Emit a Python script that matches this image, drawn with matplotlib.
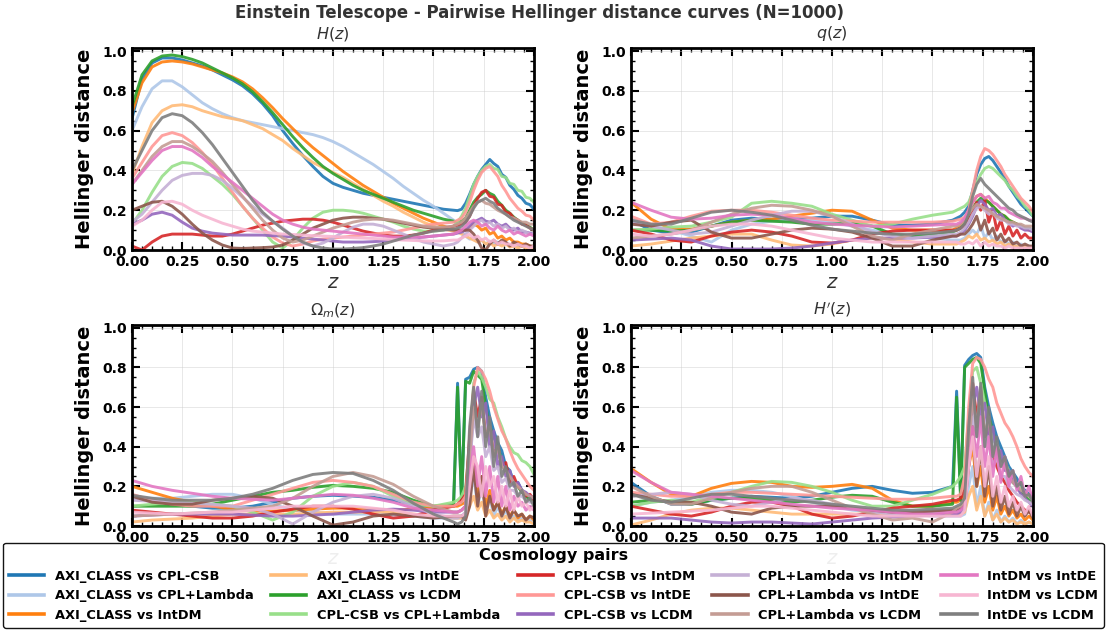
import matplotlib
matplotlib.use("Agg")
import matplotlib.pyplot as plt
from matplotlib.ticker import MultipleLocator

# ---------------- data ----------------
PAIRS = [
    "AXI_CLASS vs CPL-CSB", "AXI_CLASS vs CPL+Lambda", "AXI_CLASS vs IntDM",
    "AXI_CLASS vs IntDE", "AXI_CLASS vs LCDM", "CPL-CSB vs CPL+Lambda",
    "CPL-CSB vs IntDM", "CPL-CSB vs IntDE", "CPL-CSB vs LCDM",
    "CPL+Lambda vs IntDM", "CPL+Lambda vs IntDE", "CPL+Lambda vs LCDM",
    "IntDM vs IntDE", "IntDM vs LCDM", "IntDE vs LCDM",
]
PANEL_TITLES = ["$H(z)$", "$q(z)$", r"$\Omega_m(z)$", "$H'(z)$"]

Z_FINE = [0.00, 0.05, 0.10, 0.15, 0.20, 0.25, 0.30, 0.35, 0.40, 0.45, 0.50,
          0.55, 0.60, 0.65, 0.70, 0.75, 0.80, 0.85, 0.90, 0.95, 1.00, 1.05,
          1.10, 1.15, 1.20, 1.25, 1.30, 1.35, 1.40, 1.45, 1.50, 1.55, 1.60]
Z_COARSE = [0.0, 0.1, 0.2, 0.3, 0.4, 0.5, 0.6, 0.7, 0.8, 0.9, 1.0, 1.1, 1.2,
            1.3, 1.4, 1.5, 1.6]
Z_NOISY = [1.62, 1.64, 1.66, 1.68, 1.70, 1.72, 1.74, 1.76, 1.78, 1.80, 1.82,
           1.84, 1.86, 1.88, 1.90, 1.92, 1.94, 1.96, 1.98, 2.00]

# H(z) panel: smooth part on Z_FINE, noisy part on Z_NOISY
H_SMOOTH = [
    [0.66,0.86,0.94,0.965,0.965,0.955,0.94,0.925,0.905,0.88,0.855,0.825,0.785,0.735,0.675,0.60,0.535,0.475,0.42,0.37,0.335,0.315,0.30,0.285,0.275,0.265,0.255,0.245,0.235,0.225,0.215,0.205,0.20],
    [0.60,0.72,0.81,0.85,0.85,0.82,0.78,0.74,0.71,0.685,0.665,0.65,0.64,0.63,0.62,0.61,0.60,0.59,0.58,0.565,0.545,0.52,0.49,0.46,0.43,0.395,0.36,0.32,0.285,0.25,0.22,0.185,0.15],
    [0.69,0.84,0.92,0.945,0.95,0.945,0.935,0.92,0.905,0.89,0.87,0.845,0.81,0.765,0.715,0.66,0.61,0.56,0.515,0.475,0.435,0.395,0.36,0.325,0.295,0.265,0.235,0.21,0.185,0.16,0.14,0.12,0.105],
    [0.38,0.52,0.64,0.70,0.725,0.73,0.72,0.70,0.685,0.67,0.66,0.65,0.63,0.61,0.58,0.55,0.51,0.475,0.44,0.415,0.39,0.365,0.335,0.305,0.275,0.245,0.22,0.19,0.165,0.14,0.12,0.105,0.095],
    [0.72,0.88,0.95,0.975,0.98,0.972,0.958,0.94,0.915,0.89,0.865,0.835,0.795,0.745,0.69,0.63,0.57,0.515,0.465,0.42,0.385,0.355,0.325,0.30,0.28,0.26,0.24,0.22,0.20,0.185,0.17,0.155,0.145],
    [0.13,0.20,0.29,0.37,0.42,0.44,0.435,0.41,0.37,0.33,0.28,0.22,0.16,0.10,0.04,0.01,0.05,0.11,0.16,0.19,0.20,0.20,0.195,0.185,0.17,0.155,0.14,0.12,0.105,0.095,0.095,0.10,0.12],
    [0.02,0.0,0.04,0.07,0.08,0.08,0.08,0.075,0.07,0.07,0.08,0.095,0.11,0.125,0.135,0.145,0.15,0.155,0.155,0.15,0.14,0.125,0.11,0.095,0.085,0.075,0.07,0.07,0.075,0.085,0.10,0.11,0.12],
    [0.36,0.44,0.52,0.575,0.59,0.575,0.54,0.49,0.43,0.36,0.29,0.22,0.16,0.11,0.065,0.035,0.02,0.03,0.045,0.055,0.06,0.065,0.07,0.075,0.08,0.085,0.09,0.10,0.11,0.12,0.13,0.135,0.14],
    [0.13,0.15,0.18,0.19,0.175,0.14,0.11,0.095,0.085,0.08,0.075,0.075,0.075,0.075,0.072,0.07,0.065,0.06,0.055,0.05,0.045,0.04,0.04,0.04,0.042,0.045,0.05,0.055,0.06,0.065,0.07,0.075,0.08],
    [0.14,0.18,0.24,0.30,0.35,0.375,0.385,0.385,0.375,0.35,0.31,0.265,0.22,0.18,0.145,0.11,0.07,0.035,0.02,0.035,0.06,0.09,0.115,0.13,0.13,0.12,0.10,0.08,0.06,0.04,0.03,0.02,0.03],
    [0.20,0.22,0.24,0.245,0.22,0.18,0.13,0.085,0.05,0.025,0.01,0.008,0.01,0.012,0.015,0.025,0.05,0.08,0.11,0.13,0.15,0.16,0.165,0.165,0.16,0.155,0.145,0.135,0.125,0.115,0.11,0.105,0.10],
    [0.33,0.40,0.47,0.52,0.545,0.545,0.52,0.485,0.445,0.39,0.33,0.27,0.21,0.15,0.10,0.06,0.04,0.05,0.07,0.09,0.11,0.125,0.14,0.15,0.155,0.155,0.15,0.14,0.13,0.12,0.115,0.115,0.12],
    [0.33,0.39,0.45,0.50,0.52,0.52,0.50,0.465,0.42,0.38,0.34,0.30,0.26,0.22,0.18,0.15,0.13,0.115,0.105,0.10,0.095,0.09,0.085,0.08,0.075,0.07,0.065,0.065,0.065,0.065,0.07,0.075,0.08],
    [0.12,0.15,0.20,0.24,0.245,0.23,0.20,0.175,0.155,0.135,0.12,0.105,0.095,0.09,0.085,0.08,0.078,0.075,0.072,0.07,0.068,0.065,0.062,0.06,0.058,0.055,0.052,0.05,0.048,0.046,0.045,0.046,0.05],
    [0.40,0.50,0.60,0.665,0.685,0.675,0.64,0.59,0.53,0.46,0.39,0.32,0.25,0.19,0.145,0.105,0.07,0.04,0.02,0.01,0.005,0.005,0.008,0.012,0.02,0.03,0.045,0.06,0.075,0.085,0.095,0.10,0.105],
]
H_NOISY = [
    [0.198,0.205,0.235,0.28,0.33,0.37,0.405,0.43,0.455,0.435,0.42,0.38,0.365,0.325,0.305,0.275,0.26,0.235,0.228,0.205],
    [0.12,0.09,0.07,0.055,0.06,0.04,0.05,0.03,0.045,0.03,0.04,0.025,0.035,0.02,0.03,0.02,0.025,0.015,0.02,0.015],
    [0.10,0.095,0.10,0.11,0.13,0.12,0.10,0.11,0.08,0.09,0.06,0.07,0.05,0.06,0.04,0.04,0.03,0.03,0.02,0.015],
    [0.09,0.08,0.07,0.06,0.05,0.04,0.05,0.03,0.04,0.02,0.03,0.02,0.03,0.015,0.02,0.01,0.02,0.01,0.01,0.01],
    [0.14,0.145,0.16,0.20,0.24,0.265,0.28,0.30,0.285,0.275,0.245,0.225,0.20,0.185,0.165,0.15,0.135,0.125,0.115,0.10],
    [0.14,0.17,0.21,0.27,0.33,0.37,0.40,0.42,0.43,0.41,0.405,0.37,0.365,0.335,0.33,0.30,0.295,0.265,0.26,0.24],
    [0.125,0.13,0.14,0.17,0.22,0.26,0.29,0.30,0.27,0.265,0.23,0.225,0.19,0.185,0.16,0.15,0.13,0.125,0.11,0.10],
    [0.15,0.16,0.19,0.24,0.30,0.35,0.39,0.41,0.42,0.395,0.37,0.325,0.295,0.26,0.235,0.21,0.195,0.175,0.17,0.15],
    [0.085,0.09,0.10,0.12,0.14,0.15,0.16,0.145,0.14,0.15,0.13,0.12,0.13,0.11,0.10,0.11,0.09,0.09,0.085,0.08],
    [0.04,0.06,0.08,0.10,0.12,0.14,0.15,0.13,0.14,0.12,0.13,0.11,0.12,0.10,0.11,0.09,0.10,0.09,0.08,0.08],
    [0.10,0.10,0.10,0.10,0.08,0.05,0.01,0.0,0.03,0.05,0.03,0.05,0.04,0.02,0.04,0.03,0.02,0.03,0.02,0.02],
    [0.13,0.14,0.16,0.19,0.22,0.24,0.25,0.235,0.23,0.215,0.20,0.19,0.18,0.165,0.16,0.15,0.14,0.14,0.13,0.13],
    [0.09,0.10,0.12,0.14,0.15,0.14,0.12,0.13,0.11,0.10,0.12,0.10,0.09,0.10,0.08,0.09,0.08,0.07,0.08,0.07],
    [0.05,0.06,0.07,0.08,0.06,0.07,0.05,0.06,0.04,0.05,0.03,0.04,0.03,0.03,0.02,0.03,0.02,0.02,0.01,0.02],
    [0.11,0.12,0.14,0.17,0.21,0.24,0.25,0.26,0.245,0.235,0.21,0.195,0.18,0.165,0.15,0.14,0.13,0.12,0.11,0.10],
]

# q(z) panel: smooth part on Z_COARSE
Q_SMOOTH = [
    [0.15,0.10,0.085,0.09,0.12,0.15,0.16,0.155,0.155,0.16,0.17,0.17,0.15,0.125,0.125,0.13,0.15],
    [0.16,0.12,0.10,0.07,0.04,0.10,0.13,0.145,0.15,0.15,0.14,0.12,0.10,0.08,0.07,0.06,0.05],
    [0.24,0.155,0.105,0.105,0.12,0.14,0.15,0.155,0.17,0.185,0.20,0.195,0.15,0.11,0.10,0.10,0.10],
    [0.02,0.03,0.045,0.06,0.07,0.08,0.08,0.05,0.025,0.02,0.03,0.05,0.06,0.055,0.04,0.03,0.03],
    [0.10,0.10,0.095,0.10,0.12,0.14,0.15,0.145,0.14,0.13,0.13,0.135,0.12,0.08,0.07,0.075,0.09],
    [0.10,0.105,0.115,0.12,0.14,0.165,0.235,0.245,0.235,0.22,0.18,0.15,0.12,0.13,0.155,0.175,0.19],
    [0.10,0.08,0.05,0.04,0.07,0.09,0.10,0.09,0.07,0.04,0.035,0.05,0.08,0.095,0.10,0.10,0.10],
    [0.17,0.13,0.14,0.17,0.195,0.20,0.20,0.19,0.175,0.16,0.15,0.145,0.14,0.14,0.14,0.14,0.145],
    [0.05,0.055,0.06,0.05,0.02,0.005,0.005,0.005,0.01,0.02,0.035,0.05,0.06,0.06,0.06,0.065,0.07],
    [0.14,0.12,0.10,0.08,0.09,0.12,0.15,0.175,0.195,0.195,0.17,0.13,0.09,0.07,0.06,0.07,0.08],
    [0.13,0.12,0.14,0.15,0.09,0.06,0.06,0.08,0.10,0.11,0.105,0.09,0.06,0.02,0.02,0.05,0.07],
    [0.06,0.07,0.08,0.10,0.14,0.18,0.21,0.225,0.22,0.20,0.17,0.12,0.07,0.05,0.08,0.10,0.12],
    [0.24,0.20,0.165,0.155,0.16,0.175,0.18,0.175,0.16,0.14,0.13,0.125,0.12,0.115,0.12,0.125,0.13],
    [0.08,0.07,0.08,0.10,0.12,0.13,0.13,0.12,0.10,0.08,0.06,0.05,0.04,0.04,0.04,0.04,0.04],
    [0.15,0.13,0.13,0.16,0.19,0.20,0.19,0.175,0.15,0.125,0.105,0.095,0.085,0.08,0.08,0.085,0.095],
]
Q_NOISY = [
    [0.16,0.17,0.19,0.22,0.30,0.38,0.43,0.46,0.47,0.45,0.42,0.39,0.36,0.32,0.29,0.26,0.23,0.21,0.19,0.17],
    [0.05,0.05,0.06,0.08,0.10,0.08,0.12,0.06,0.09,0.05,0.07,0.04,0.05,0.03,0.04,0.02,0.03,0.01,0.02,0.01],
    [0.11,0.12,0.15,0.20,0.24,0.27,0.28,0.26,0.24,0.22,0.20,0.18,0.17,0.15,0.14,0.13,0.12,0.11,0.10,0.10],
    [0.03,0.04,0.05,0.07,0.06,0.08,0.05,0.06,0.04,0.05,0.03,0.04,0.02,0.03,0.02,0.02,0.01,0.02,0.01,0.01],
    [0.10,0.11,0.13,0.17,0.21,0.24,0.26,0.25,0.24,0.22,0.20,0.18,0.17,0.15,0.14,0.13,0.12,0.11,0.11,0.10],
    [0.20,0.21,0.22,0.24,0.29,0.34,0.38,0.41,0.42,0.41,0.39,0.37,0.35,0.32,0.30,0.27,0.25,0.22,0.20,0.17],
    [0.10,0.11,0.12,0.15,0.19,0.24,0.20,0.25,0.14,0.20,0.10,0.15,0.08,0.12,0.07,0.10,0.06,0.08,0.06,0.06],
    [0.15,0.155,0.165,0.20,0.30,0.40,0.47,0.51,0.50,0.48,0.45,0.42,0.38,0.35,0.32,0.29,0.26,0.24,0.22,0.19],
    [0.07,0.08,0.10,0.13,0.17,0.22,0.25,0.23,0.20,0.21,0.17,0.18,0.15,0.14,0.12,0.13,0.11,0.10,0.10,0.09],
    [0.08,0.09,0.11,0.14,0.18,0.21,0.22,0.20,0.18,0.19,0.16,0.15,0.15,0.13,0.13,0.12,0.12,0.11,0.11,0.10],
    [0.07,0.08,0.08,0.10,0.13,0.17,0.10,0.15,0.08,0.11,0.05,0.08,0.04,0.06,0.03,0.04,0.02,0.03,0.02,0.02],
    [0.12,0.13,0.15,0.18,0.21,0.23,0.22,0.21,0.20,0.18,0.17,0.16,0.15,0.14,0.14,0.13,0.13,0.12,0.12,0.12],
    [0.13,0.14,0.16,0.20,0.24,0.27,0.28,0.26,0.27,0.24,0.23,0.21,0.21,0.19,0.18,0.17,0.16,0.16,0.15,0.15],
    [0.04,0.03,0.03,0.04,0.03,0.05,0.02,0.04,0.02,0.03,0.02,0.02,0.01,0.02,0.01,0.01,0.01,0.01,0.01,0.01],
    [0.10,0.11,0.13,0.18,0.27,0.33,0.36,0.33,0.31,0.29,0.27,0.25,0.23,0.21,0.20,0.18,0.17,0.16,0.15,0.14],
]

# Omega_m(z) panel
OM_SMOOTH = [
    [0.15,0.13,0.11,0.10,0.09,0.09,0.10,0.12,0.14,0.15,0.155,0.15,0.145,0.13,0.11,0.09,0.10],
    [0.14,0.14,0.14,0.15,0.16,0.16,0.14,0.11,0.08,0.07,0.06,0.06,0.06,0.055,0.05,0.04,0.04],
    [0.20,0.17,0.14,0.12,0.10,0.085,0.075,0.075,0.08,0.085,0.09,0.09,0.085,0.08,0.085,0.095,0.10],
    [0.02,0.03,0.035,0.04,0.05,0.06,0.06,0.06,0.06,0.065,0.07,0.07,0.07,0.07,0.06,0.05,0.04],
    [0.10,0.10,0.10,0.10,0.11,0.13,0.15,0.17,0.18,0.195,0.205,0.20,0.19,0.17,0.13,0.10,0.11],
    [0.10,0.11,0.12,0.12,0.11,0.10,0.07,0.03,0.07,0.15,0.20,0.22,0.20,0.15,0.11,0.10,0.12],
    [0.08,0.07,0.06,0.05,0.04,0.04,0.05,0.07,0.085,0.10,0.10,0.085,0.06,0.04,0.05,0.08,0.10],
    [0.16,0.13,0.11,0.10,0.10,0.10,0.13,0.16,0.19,0.22,0.23,0.22,0.20,0.16,0.12,0.10,0.10],
    [0.05,0.055,0.06,0.06,0.06,0.06,0.055,0.05,0.05,0.055,0.06,0.07,0.08,0.085,0.08,0.07,0.07],
    [0.13,0.125,0.12,0.115,0.11,0.10,0.09,0.06,0.01,0.07,0.12,0.15,0.16,0.14,0.10,0.06,0.04],
    [0.15,0.12,0.11,0.11,0.13,0.14,0.15,0.14,0.10,0.05,0.005,0.02,0.05,0.06,0.05,0.04,0.05],
    [0.05,0.055,0.06,0.065,0.07,0.08,0.09,0.10,0.14,0.20,0.25,0.27,0.25,0.21,0.15,0.10,0.07],
    [0.23,0.20,0.18,0.165,0.15,0.14,0.135,0.13,0.14,0.15,0.16,0.155,0.14,0.12,0.09,0.08,0.07],
    [0.07,0.065,0.06,0.065,0.07,0.07,0.08,0.09,0.10,0.10,0.10,0.10,0.09,0.08,0.06,0.05,0.05],
    [0.155,0.14,0.13,0.13,0.13,0.14,0.16,0.19,0.23,0.26,0.27,0.265,0.23,0.18,0.115,0.06,0.02],
]
OM_NOISY = [
    [0.72,0.12,0.74,0.75,0.79,0.80,0.78,0.65,0.55,0.48,0.42,0.38,0.30,0.28,0.22,0.22,0.18,0.16,0.14,0.13],
    [0.04,0.04,0.05,0.15,0.25,0.10,0.20,0.08,0.15,0.05,0.10,0.04,0.08,0.03,0.05,0.03,0.04,0.02,0.03,0.02],
    [0.10,0.11,0.12,0.20,0.35,0.15,0.25,0.10,0.18,0.08,0.12,0.06,0.10,0.05,0.08,0.04,0.06,0.03,0.05,0.03],
    [0.04,0.04,0.05,0.10,0.15,0.08,0.12,0.05,0.08,0.04,0.06,0.03,0.05,0.02,0.04,0.02,0.03,0.02,0.02,0.01],
    [0.70,0.12,0.73,0.72,0.78,0.76,0.74,0.60,0.50,0.45,0.40,0.33,0.30,0.25,0.22,0.20,0.17,0.15,0.13,0.12],
    [0.13,0.15,0.20,0.40,0.72,0.78,0.75,0.70,0.64,0.62,0.55,0.50,0.44,0.40,0.37,0.36,0.33,0.32,0.30,0.26],
    [0.11,0.13,0.16,0.45,0.68,0.55,0.65,0.45,0.50,0.36,0.40,0.30,0.32,0.22,0.25,0.20,0.18,0.15,0.16,0.13],
    [0.11,0.12,0.15,0.40,0.70,0.80,0.78,0.74,0.68,0.60,0.54,0.48,0.44,0.38,0.33,0.29,0.26,0.23,0.20,0.18],
    [0.07,0.08,0.10,0.30,0.60,0.70,0.55,0.62,0.40,0.48,0.30,0.35,0.25,0.28,0.20,0.22,0.18,0.17,0.15,0.14],
    [0.04,0.05,0.07,0.30,0.55,0.45,0.50,0.35,0.40,0.28,0.30,0.22,0.24,0.18,0.18,0.15,0.15,0.13,0.12,0.12],
    [0.05,0.05,0.03,0.10,0.30,0.10,0.25,0.05,0.15,0.08,0.12,0.05,0.10,0.04,0.08,0.05,0.06,0.03,0.05,0.04],
    [0.07,0.08,0.10,0.35,0.60,0.50,0.62,0.45,0.50,0.35,0.40,0.30,0.28,0.25,0.22,0.20,0.18,0.16,0.15,0.14],
    [0.07,0.08,0.10,0.25,0.40,0.20,0.35,0.15,0.30,0.12,0.25,0.10,0.20,0.08,0.15,0.10,0.12,0.08,0.10,0.08],
    [0.05,0.05,0.06,0.20,0.35,0.30,0.15,0.30,0.20,0.25,0.12,0.20,0.10,0.18,0.08,0.15,0.10,0.12,0.08,0.10],
    [0.01,0.02,0.05,0.50,0.70,0.45,0.68,0.40,0.55,0.30,0.45,0.25,0.30,0.20,0.22,0.15,0.18,0.12,0.14,0.10],
]

# H'(z) panel
HP_SMOOTH = [
    [0.22,0.15,0.11,0.11,0.13,0.14,0.15,0.145,0.14,0.15,0.17,0.19,0.20,0.18,0.165,0.17,0.20],
    [0.10,0.12,0.13,0.15,0.17,0.18,0.18,0.17,0.15,0.12,0.10,0.08,0.07,0.06,0.06,0.05,0.05],
    [0.29,0.22,0.16,0.15,0.19,0.215,0.225,0.22,0.20,0.195,0.20,0.21,0.19,0.13,0.10,0.10,0.12],
    [0.005,0.03,0.06,0.08,0.09,0.09,0.08,0.07,0.06,0.06,0.06,0.06,0.06,0.06,0.06,0.06,0.06],
    [0.12,0.13,0.12,0.11,0.13,0.14,0.14,0.13,0.12,0.13,0.145,0.155,0.15,0.12,0.10,0.10,0.11],
    [0.10,0.12,0.13,0.12,0.15,0.17,0.20,0.225,0.22,0.20,0.17,0.13,0.10,0.10,0.13,0.16,0.20],
    [0.10,0.08,0.06,0.05,0.07,0.10,0.12,0.12,0.10,0.06,0.04,0.05,0.07,0.09,0.10,0.11,0.13],
    [0.17,0.16,0.15,0.15,0.16,0.17,0.17,0.165,0.16,0.155,0.15,0.145,0.14,0.135,0.135,0.14,0.15],
    [0.04,0.04,0.04,0.03,0.02,0.015,0.02,0.02,0.015,0.01,0.02,0.03,0.04,0.045,0.05,0.055,0.06],
    [0.15,0.16,0.17,0.16,0.13,0.11,0.10,0.12,0.14,0.13,0.11,0.09,0.07,0.06,0.06,0.07,0.08],
    [0.16,0.14,0.12,0.12,0.10,0.07,0.06,0.09,0.10,0.10,0.10,0.09,0.08,0.07,0.07,0.075,0.08],
    [0.20,0.15,0.11,0.11,0.14,0.17,0.19,0.20,0.20,0.17,0.13,0.09,0.06,0.03,0.04,0.02,0.07],
    [0.28,0.22,0.17,0.16,0.15,0.14,0.13,0.12,0.11,0.10,0.09,0.085,0.08,0.07,0.06,0.06,0.07],
    [0.06,0.065,0.07,0.075,0.08,0.09,0.10,0.10,0.09,0.08,0.07,0.06,0.05,0.05,0.05,0.05,0.05],
    [0.16,0.13,0.12,0.14,0.16,0.16,0.15,0.14,0.13,0.12,0.11,0.10,0.09,0.08,0.08,0.085,0.09],
]
HP_NOISY = [
    [0.68,0.15,0.81,0.84,0.86,0.87,0.85,0.70,0.60,0.52,0.45,0.40,0.35,0.30,0.27,0.24,0.20,0.18,0.16,0.14],
    [0.05,0.05,0.06,0.20,0.30,0.10,0.20,0.05,0.12,0.03,0.08,0.02,0.05,0.02,0.04,0.01,0.03,0.01,0.02,0.01],
    [0.12,0.13,0.15,0.30,0.40,0.20,0.30,0.12,0.20,0.08,0.15,0.06,0.10,0.05,0.08,0.04,0.06,0.03,0.05,0.03],
    [0.06,0.06,0.07,0.15,0.20,0.08,0.15,0.05,0.10,0.03,0.06,0.02,0.04,0.02,0.03,0.01,0.02,0.01,0.02,0.01],
    [0.65,0.13,0.80,0.82,0.84,0.85,0.82,0.68,0.55,0.48,0.40,0.35,0.30,0.26,0.22,0.20,0.17,0.15,0.13,0.12],
    [0.22,0.25,0.30,0.55,0.78,0.80,0.72,0.62,0.52,0.44,0.40,0.36,0.32,0.28,0.24,0.21,0.19,0.17,0.15,0.13],
    [0.13,0.14,0.18,0.50,0.72,0.55,0.68,0.45,0.50,0.35,0.30,0.25,0.22,0.18,0.15,0.12,0.10,0.08,0.07,0.06],
    [0.15,0.16,0.25,0.60,0.82,0.85,0.84,0.80,0.74,0.70,0.62,0.57,0.52,0.49,0.45,0.40,0.34,0.30,0.27,0.25],
    [0.06,0.07,0.09,0.35,0.60,0.70,0.55,0.62,0.45,0.50,0.35,0.38,0.28,0.28,0.22,0.20,0.16,0.14,0.12,0.10],
    [0.08,0.09,0.11,0.35,0.55,0.45,0.55,0.40,0.45,0.30,0.35,0.25,0.25,0.20,0.18,0.16,0.15,0.13,0.12,0.11],
    [0.08,0.09,0.10,0.30,0.50,0.20,0.40,0.15,0.30,0.10,0.20,0.08,0.15,0.06,0.12,0.05,0.10,0.05,0.08,0.04],
    [0.09,0.10,0.12,0.40,0.65,0.50,0.70,0.45,0.55,0.35,0.40,0.30,0.30,0.25,0.22,0.20,0.18,0.17,0.15,0.14],
    [0.07,0.08,0.10,0.30,0.50,0.35,0.55,0.30,0.45,0.25,0.40,0.22,0.35,0.20,0.28,0.18,0.25,0.15,0.20,0.12],
    [0.05,0.05,0.08,0.30,0.45,0.25,0.40,0.20,0.35,0.15,0.25,0.12,0.20,0.10,0.15,0.08,0.12,0.06,0.10,0.05],
    [0.10,0.11,0.14,0.50,0.75,0.45,0.72,0.40,0.60,0.35,0.45,0.30,0.35,0.25,0.28,0.20,0.22,0.15,0.16,0.12],
]

# ---------------- figure ----------------
COLORS = plt.get_cmap("tab20").colors[:15]

fig = plt.figure(figsize=(11.08, 6.32), dpi=100)
rects = [
    [0.1191, 0.6044, 0.3628, 0.3196],
    [0.5695, 0.6044, 0.3628, 0.3196],
    [0.1191, 0.1677, 0.3628, 0.3185],
    [0.5695, 0.1677, 0.3628, 0.3185],
]
panels = [
    (Z_FINE, H_SMOOTH, H_NOISY),
    (Z_COARSE, Q_SMOOTH, Q_NOISY),
    (Z_COARSE, OM_SMOOTH, OM_NOISY),
    (Z_COARSE, HP_SMOOTH, HP_NOISY),
]

axes = []
for rect, title, (zs, smooth, noisy) in zip(rects, PANEL_TITLES, panels):
    ax = fig.add_axes(rect)
    axes.append(ax)
    for i, label in enumerate(PAIRS):
        ax.plot(list(zs) + Z_NOISY, smooth[i] + noisy[i], color=COLORS[i],
                lw=2.1, alpha=0.9, label=label, solid_joinstyle="round")
    ax.set_xlim(0, 2.0)
    ax.set_ylim(0, 1.015)
    ax.xaxis.set_major_locator(MultipleLocator(0.25))
    ax.xaxis.set_minor_locator(MultipleLocator(0.05))
    ax.yaxis.set_major_locator(MultipleLocator(0.2))
    ax.yaxis.set_minor_locator(MultipleLocator(0.05))
    ax.tick_params(which="both", direction="in", top=True, right=True)
    ax.tick_params(which="major", length=6, width=1.5, labelsize=10, pad=3.5)
    ax.tick_params(which="minor", length=3, width=1.0)
    for lbl in ax.get_xticklabels() + ax.get_yticklabels():
        lbl.set_fontweight("bold")
    ax.grid(True, which="major", color="#cccccc", alpha=0.45, lw=0.7)
    for sp in ax.spines.values():
        sp.set_linewidth(2.0)
    ax.set_title(title, fontsize=11.5, color="#333333", pad=7)
    ax.set_xlabel("$z$", fontsize=14, color="#333333", labelpad=3)
    ax.set_ylabel("Hellinger distance", fontsize=14, fontweight="bold", labelpad=6)

fig.text(0.487, 0.993, "Einstein Telescope - Pairwise Hellinger distance curves (N=1000)",
         ha="center", va="top", fontsize=12, fontweight="bold", color="#333333")

handles, labels = axes[0].get_legend_handles_labels()
leg = fig.legend(handles, labels, loc="lower left", mode="expand",
                 bbox_to_anchor=(0.0027, 0.0065, 0.9937, 0.2), ncol=5,
                 prop={"weight": "bold", "size": 9.4},
                 title="Cosmology pairs",
                 title_fontproperties={"weight": "bold", "size": 11.5},
                 frameon=True, fancybox=True, edgecolor="black", framealpha=0.92,
                 handlelength=2.7, handletextpad=0.8, labelspacing=0.5,
                 borderpad=0.45, borderaxespad=0.0)
leg.get_frame().set_linewidth(1.0)
for ln in leg.get_lines():
    ln.set_linewidth(2.6)
    ln.set_alpha(1.0)

fig.savefig("out.png", dpi=100)
